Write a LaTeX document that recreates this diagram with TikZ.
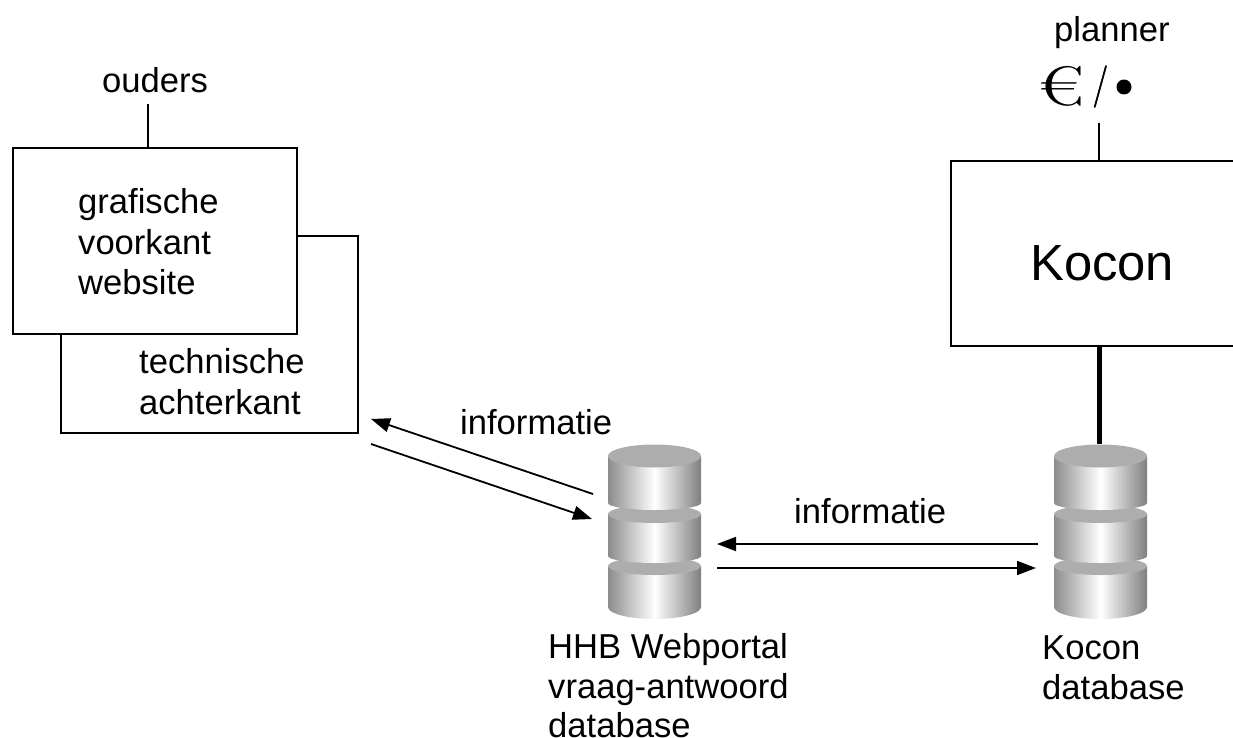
\documentclass[tikz,border=0pt]{standalone}
\usepackage{fontspec}
\setmainfont{Liberation Sans}
\newfontfamily\euroface{Latin Modern Roman}
\newfontfamily\slashface[FakeBold=1.6]{Latin Modern Roman}
\usetikzlibrary{arrows.meta}
\tikzset{
  x=1pt,y=-1pt,
  box/.style={draw=black,line width=2pt,fill=white},
  label/.style={inner sep=0pt,anchor=base west,align=left,font=\fontsize{34.6pt}{40.3pt}\selectfont},
  tightlabel/.style={label,font=\fontsize{34.6pt}{39.5pt}\selectfont},
  link/.style={line width=2pt,draw=black},
  flow/.style={link,line width=1.8pt,-{Triangle[length=19pt,width=14pt]}},
}
\definecolor{sideL}{gray}{0.55}
\definecolor{sideR}{gray}{0.50}
\definecolor{capgray}{gray}{0.68}
% x, cap centre y, side bottom y, cap radius, bottom radius
\newcommand{\dbseg}[5]{%
  \shade[left color=sideL,right color=sideR,middle color=white]
    (#1,#2) -- (#1,#3) arc[start angle=180,end angle=360,x radius=46.5,y radius=-#5] -- (#1+93,#2) -- cycle;
  \fill[capgray] (#1+46.5,#2) ellipse[x radius=46.5,y radius=#4];
}
\newcommand{\dbcyl}[1]{%
  \dbseg{#1}{566}{607}{9}{12}
  \dbseg{#1}{514}{556}{9}{7}
  \dbseg{#1}{456}{503}{11.5}{7}
}
\begin{document}
\begin{tikzpicture}
\useasboundingbox (0,0) rectangle (1233,738);
\clip (0,0) rectangle (1233,738);
% boxes
\node[box,anchor=north west,minimum width=297pt,minimum height=197pt,inner sep=0pt] (back) at (60,234.5) {};
\node[box,anchor=north west,minimum width=284pt,minimum height=185pt,inner sep=0pt] (front) at (12,147.5) {};
\node[box,anchor=north west,minimum width=300pt,minimum height=184pt,inner sep=0pt] (kocon) at (950,160.5) {};
% cylinders
\dbcyl{608}
\dbcyl{1054}
\node[minimum width=93pt,minimum height=175pt,inner sep=0pt] (hhbdb) at (654.5,531.5) {};
\node[minimum width=93pt,minimum height=175pt,inner sep=0pt] (kocondb) at (1100.5,531.5) {};
% texts
\node[label] (ouders) at (102,92.5) {ouders};
\node[label] (planner) at (1054,41.5) {planner};
\node[label] (g) at (78,294.3) {grafische\\voorkant\\website};
\node[label] (t) at (139,414) {technische\\achterkant};
\node[label] (i1) at (460,434.5) {informatie};
\node[label] (i2) at (794,523) {informatie};
\node[tightlabel] (h) at (548,737.5) {HHB Webportal\\vraag-antwoord\\database};
\node[tightlabel] (k) at (1042,699) {Kocon\\database};
\node[label,font=\fontsize{50.8pt}{60pt}\selectfont] (kt) at (1030,280) {Kocon};
% symbols
\node[inner sep=0pt,anchor=base west,font=\euroface\fontsize{56pt}{56pt}\selectfont,xscale=1.45] (eu) at (1037,106) {€};
\node[inner sep=0pt,anchor=base west,font=\slashface\fontsize{42pt}{42pt}\selectfont,xscale=0.8] (sl) at (1092.5,97) {/};
\node[circle,fill=black,inner sep=0pt,minimum size=15pt] (dot) at (1124,87) {};
% connectors
\coordinate (ouderstip) at (148,104);
\coordinate (plannertip) at (1099,123);
\draw[link] (ouderstip) -- (ouderstip |- front.north);
\draw[link] (plannertip) -- (plannertip |- kocon.north);
\draw[line width=5pt] (kocon.south -| plannertip) -- (plannertip |- kocondb.north);
\coordinate (a1) at (593,494); \coordinate (a2) at (371,419);
\coordinate (b1) at (371,444); \coordinate (b2) at (592,519);
\coordinate (c1) at (1038,544); \coordinate (c2) at (717,544);
\coordinate (d1) at (717,568); \coordinate (d2) at (1036,568);
\draw[flow] (a1) -- (a2);
\draw[flow] (b1) -- (b2);
\draw[flow] (c1) -- (c2);
\draw[flow] (d1) -- (d2);
\end{tikzpicture}
\end{document}
